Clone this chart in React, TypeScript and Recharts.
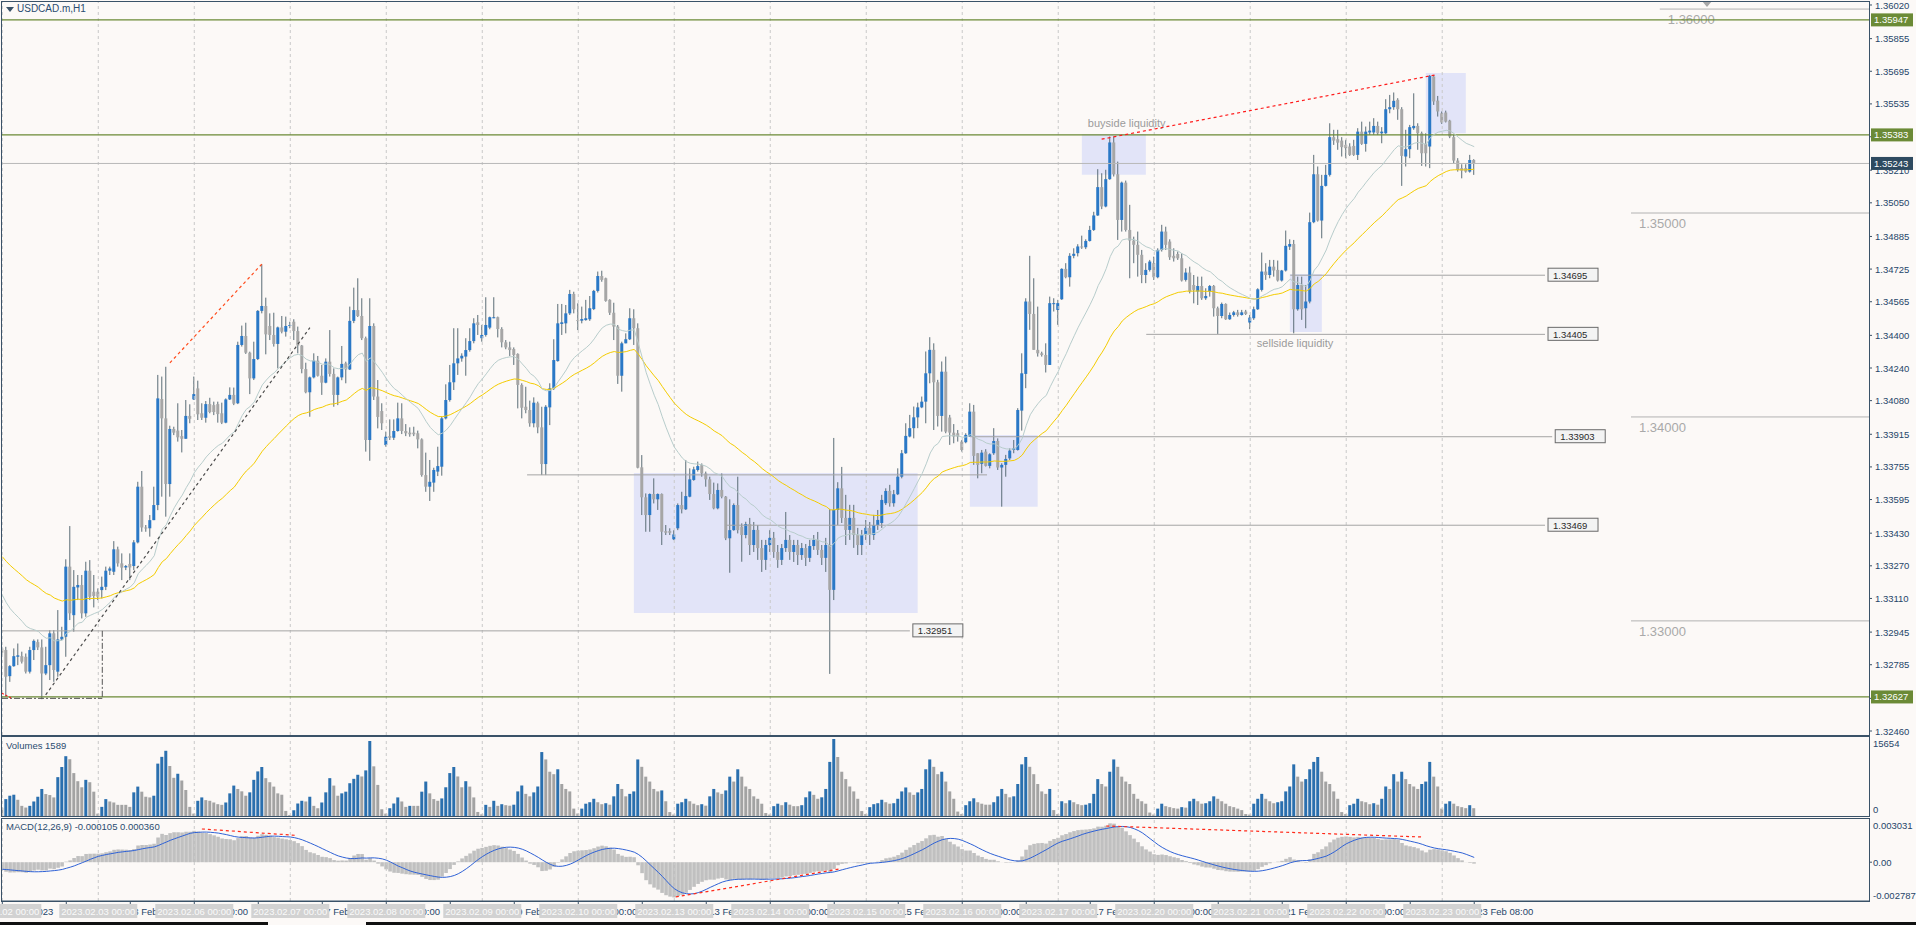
import React from "react";
import { ComposedChart, Bar, Line, XAxis, YAxis, ReferenceLine, ReferenceArea, ReferenceDot, Cell } from "recharts";

// ---------- data (prices in points of 0.00001 above 1.30000) ----------
const BASE = 1.3;
const PT = 100000;
const DAYS = [2, 3, 6, 7, 8, 9, 10, 13, 14, 15, 16, 17, 20, 21, 22, 23];

const opens = [
  2865,2857,2729,2778,2824,2827,2824,2751,2857,2896, 2870,2742,2783,2939,2751,2909,2922,3266,3028,3164,
  3176,3037,3246,3143,3143,3151,3167,3246,3241,3351, 3282,3262,3279,3269,3385,3658,3458,3454,3494,3568,
  4088,3993,3671,3941,3933,3906,3893,4005,4086,4140, 4018,3996,4063,4058,4063,4018,3972,4086,4108,4067,
  4353,4397,4315,4189,4284,4520,4544,4446,4402,4358, 4439,4418,4446,4467,4421,4350,4235,4121,4194,4276,
  4202,4168,4271,4211,4108,4194,4263,4233,4471,4524, 4495,4386,3887,4446,4100,4029,3862,3906,3898,3931,
  3993,3931,3923,3923,3920,3890,3715,3658,3678,3732, 3756,3993,4083,4170,4263,4287,4296,4328,4372,4464,
  4386,4402,4438,4484,4489,4431,4366,4341,4333,4309, 4157,4050,4034,3969,4067,3949,3769,4047,4140,4274,
  4456,4459,4508,4603,4475,4472,4475,4479,4529,4618, 4691,4680,4574,4511,4443,4202,4361,4381,4484,4435,
  3753,3606,3519,3622,3596,3622,3440,3440,3400,3454, 3568,3547,3609,3691,3740,3764,3723,3694,3622,3552,
  3642,3609,3405,3445,3568,3462,3421,3475,3372,3446, 3357,3299,3372,3407,3338,3299,3357,3397,3338,3372,
  3323,3357,3309,3367,3397,3348,3309,3372,3152,3544, 3650,3505,3446,3505,3421,3372,3421,3456,3421,3470,
  3480,3577,3637,3577,3621,3707,3822,3904,3945,3998, 4047,4075,4214,4329,4170,4005,4222,3997,3923,3920,
  3879,3876,3904,4026,3822,3770,3830,3760,3822,3882, 3752,3765,3797,3838,3838,4031,4211,4566,4505,4329,
  4312,4304,4255,4553,4525,4577,4726,4685,4790,4803, 4836,4832,4863,4917,4988,5127,5032,5166,5346,5190,
  4966,5149,4917,4865,4844,4795,4696,4721,4754,4685, 4819,4909,4860,4790,4799,4778,4672,4708,4647,4615,
  4642,4582,4615,4642,4533,4495,4554,4479,4500,4513, 4500,4517,4463,4484,4528,4623,4713,4696,4737,4721,
  4669,4718,4835,4848,4528,4647,4533,4566,4955,5190, 4963,5133,5187,5372,5362,5355,5334,5326,5329,5285,
  5399,5339,5395,5395,5427,5391,5391,5509,5519,5555, 5509,5277,5313,5416,5427,5391,5339,5326,5669,5551,
  5489,5493,5453,5372,5257,5220,5220,5203,5260,
];
const highs = [
  2873,2873,2783,2865,2889,2849,2840,2873,2909,2909, 2909,2873,2955,2955,3053,2971,3302,3465,3249,3225,
  3225,3290,3298,3225,3159,3217,3266,3266,3391,3364, 3331,3274,3331,3396,3682,3735,3470,3519,3658,4206,
  4198,4246,3957,3952,4067,3936,4083,4062,4198,4178, 4067,4078,4094,4075,4075,4070,4091,4145,4144,4369,
  4448,4462,4320,4369,4524,4748,4585,4508,4511,4443, 4495,4492,4467,4479,4443,4353,4266,4198,4312,4299,
  4255,4287,4426,4238,4198,4348,4271,4541,4634,4680, 4582,4394,4582,4459,4181,4067,3928,3988,3988,4070,
  4067,3965,3949,3952,3933,3895,3825,3789,3751,3854, 4001,4160,4255,4435,4435,4312,4386,4435,4484,4500,
  4451,4587,4492,4587,4492,4440,4377,4369,4341,4312, 4165,4148,4080,4096,4075,4050,4058,4165,4381,4554,
  4554,4549,4623,4614,4557,4541,4574,4593,4623,4713, 4717,4683,4577,4560,4451,4369,4410,4533,4528,4459,
  3813,3625,3625,3699,3625,3625,3470,3454,3445,3576, 3633,3789,3748,3756,3781,3772,3732,3707,3678,3674,
  3723,3612,3596,3576,3707,3478,3486,3505,3485,3470, 3397,3397,3446,3436,3372,3377,3534,3421,3397,3397,
  3382,3377,3397,3421,3436,3372,3407,3549,3897,3680, 3755,3618,3569,3569,3456,3446,3495,3485,3520,3544,
  3618,3650,3667,3642,3748,3838,3969,4010,4051,4070, 4100,4321,4391,4361,4182,4272,4296,4010,3965,3936,
  3887,3920,4067,4059,3822,3838,3842,3822,3945,3895, 3773,3814,3846,3887,4043,4312,4582,4790,4680,4541,
  4320,4361,4590,4582,4574,4729,4754,4803,4827,4847, 4889,4871,4937,5006,5215,5195,5212,5375,5375,5252,
  5154,5159,5040,4884,4909,4819,4754,4770,4786,4827, 4942,4933,4871,4827,4811,4803,4729,4737,4696,4688,
  4688,4631,4647,4647,4541,4561,4557,4512,4520,4525, 4525,4525,4500,4541,4631,4806,4754,4770,4770,4767,
  4721,4914,4871,4868,4688,4688,4647,5002,5285,5228, 5187,5236,5440,5408,5408,5372,5359,5342,5359,5416,
  5448,5424,5448,5465,5448,5421,5558,5579,5591,5563, 5519,5408,5432,5587,5440,5399,5391,5677,5677,5574,
  5498,5502,5457,5383,5269,5239,5239,5285,5264,
];
const lows = [
  2832,2628,2701,2775,2783,2791,2742,2742,2808,2857, 2616,2734,2710,2701,2726,2906,2824,3004,2947,3102,
  3012,3020,3102,3066,3102,3110,3151,3225,3225,3266, 3200,3249,3200,3249,3380,3437,3437,3413,3494,3543,
  3609,3511,3609,3911,3879,3826,3893,3969,4083,3985, 3985,3972,4018,4009,3972,3965,3969,4083,4058,4063,
  4345,4309,4112,4181,4279,4508,4307,4377,4345,4238, 4410,4394,4435,4377,4312,4214,4116,4001,4189,4198,
  4108,4165,4198,4050,4058,4180,4165,4230,4460,4490, 4377,3830,3785,4083,3944,3936,3854,3887,3887,3928,
  3916,3906,3903,3906,3846,3707,3633,3588,3633,3710, 3712,3988,4075,4132,4206,4271,4202,4320,4361,4402,
  4369,4394,4430,4484,4390,4341,4332,4299,4255,4042, 3993,4018,3952,3949,3920,3715,3715,3960,4132,4271,
  4402,4410,4500,4508,4426,4459,4472,4471,4524,4610, 4663,4565,4500,4377,4162,4124,4361,4377,4353,3748,
  3519,3437,3437,3576,3544,3372,3421,3421,3396,3445, 3527,3544,3606,3687,3732,3707,3658,3593,3547,3547,
  3601,3396,3236,3442,3429,3290,3405,3323,3338,3299, 3240,3250,3338,3309,3260,3274,3338,3299,3289,3274,
  3299,3269,3289,3348,3323,3274,3240,2740,3102,3470, 3480,3372,3397,3358,3323,3323,3397,3372,3397,3446,
  3456,3568,3560,3560,3617,3699,3819,3900,3895,3945, 4043,3969,4165,3936,3953,3928,3920,3863,3871,3879,
  3830,3871,3904,3765,3699,3724,3757,3748,3814,3740, 3560,3707,3789,3822,3835,3933,4141,4427,4329,4296,
  4296,4218,4255,4517,4451,4574,4680,4639,4778,4787, 4824,4823,4860,4912,4986,5019,5028,5163,5179,4868,
  4909,4909,4680,4754,4688,4656,4656,4713,4672,4680, 4811,4819,4770,4762,4770,4664,4664,4606,4557,4549,
  4574,4574,4590,4492,4407,4484,4476,4476,4492,4492, 4497,4500,4430,4476,4525,4615,4672,4680,4688,4664,
  4664,4713,4819,4410,4521,4476,4435,4557,4950,4958, 4876,5130,5179,5334,5310,5277,5269,5280,5280,5260,
  5334,5301,5383,5383,5383,5342,5388,5489,5506,5457, 5133,5228,5269,5408,5310,5231,5228,5220,5530,5473,
  5437,5444,5367,5244,5203,5170,5198,5198,5187,
];
const closes = [
  2844,2726,2778,2827,2831,2800,2751,2857,2902,2870, 2742,2783,2939,2759,2909,2922,3266,3037,3167,3176,
  3037,3246,3118,3122,3118,3167,3246,3257,3351,3282, 3261,3269,3262,3385,3658,3458,3454,3494,3568,4091,
  3993,3671,3941,3923,3900,3893,4005,3991,4112,4013, 3996,4063,4024,4024,4014,3972,4086,4108,4065,4353,
  4397,4315,4189,4284,4520,4544,4405,4402,4358,4439, 4418,4446,4451,4421,4350,4235,4121,4194,4276,4202,
  4168,4271,4211,4108,4194,4260,4233,4471,4524,4495, 4386,3887,4446,4100,4000,3969,3903,3898,3931,3993,
  3931,3920,3915,3915,3890,3715,3658,3682,3740,3759, 3993,4083,4170,4263,4287,4300,4328,4372,4459,4451,
  4402,4451,4489,4489,4431,4366,4341,4328,4304,4157, 4045,4034,3969,4070,3949,3769,4050,4140,4279,4459,
  4464,4508,4603,4528,4471,4480,4484,4533,4618,4691, 4672,4569,4511,4443,4202,4361,4381,4484,4435,3751,
  3606,3519,3622,3596,3622,3437,3432,3432,3424,3568, 3547,3612,3694,3743,3759,3723,3694,3622,3552,3642,
  3609,3405,3445,3568,3445,3421,3475,3372,3446,3357, 3299,3372,3407,3338,3299,3357,3397,3338,3372,3323,
  3357,3309,3367,3397,3348,3309,3372,3152,3544,3650, 3505,3446,3505,3421,3372,3421,3456,3421,3470,3495,
  3593,3637,3577,3621,3707,3822,3907,3945,3998,4047, 4075,4214,4329,4170,4005,4222,3928,3923,3904,3904,
  3838,3912,4026,3809,3765,3825,3760,3817,3882,3752, 3765,3794,3835,3846,4034,4214,4566,4505,4329,4312,
  4304,4255,4558,4558,4558,4726,4685,4790,4800,4836, 4832,4863,4917,4988,5127,5032,5166,5346,5190,4966,
  5149,4917,4865,4844,4795,4696,4721,4762,4685,4819, 4909,4844,4783,4778,4778,4669,4708,4615,4623,4642,
  4582,4593,4642,4533,4495,4554,4479,4500,4513,4500, 4513,4505,4487,4528,4626,4713,4696,4737,4718,4669,
  4718,4839,4848,4528,4647,4528,4566,4955,5190,4963, 5133,5187,5372,5355,5345,5323,5318,5285,5285,5399,
  5339,5399,5404,5427,5391,5399,5509,5519,5550,5509, 5280,5313,5421,5427,5391,5293,5293,5672,5547,5498,
  5444,5448,5375,5257,5211,5208,5203,5260,5244,
];
const volumes = [
  1700,3435,4122,4328,3298,2061,1718,2061,2954,3916,5496,4466, 4259,3779,7900,9962,12160,11542,8725,7076,5840,7351,6870,4946,
  481,1855,3435,2954,2748,2267,2267,2267,1855,4809,5977,4946, 3916,3779,4122,10649,12023,13259,10168,7763,8588,7214,5290,1855,
  481,3092,3779,3229,3092,2748,2405,2267,2748,4603,6183,5496, 5015,4122,4809,7351,9068,9962,7694,6870,5977,4603,4328,1031,
  206,1168,2542,3092,2954,3916,2061,1580,2748,4809,7694,6183, 4122,4603,4946,6664,7557,8381,8038,9275,15251,10099,6320,1374,
  481,1580,2542,3779,2954,1855,2061,2061,2061,4946,7007,4603, 3435,3092,3573,5840,8725,9962,8038,5840,7076,5977,3779,824,
  344,2267,1855,3092,2061,2400,2200,2100,2300,5000,6200,4500, 4000,4800,6000,13000,11500,9000,8500,9500,6500,5500,5000,1500,
  500,1500,2500,2800,3500,2800,2400,2600,2300,4000,6500,5500, 4000,4500,5000,11500,10000,8000,7000,5500,5000,5200,3000,800,
  300,2500,2800,3500,3000,2500,2200,2400,2100,4000,5500,4800, 4500,5200,8000,7000,9500,8000,6000,5500,4000,3500,2500,600,
  300,2000,2500,2200,2800,2300,2000,2000,2200,3800,5000,4300, 3500,3800,5500,11000,15654,12000,9000,7500,6000,5000,3500,1000,
  400,1800,2400,2600,3300,2800,2500,2600,3500,5000,5800,4800, 4300,4800,5500,9500,11500,10000,8500,9000,7000,5000,3500,900,
  400,2200,3000,3600,2800,2500,2300,2300,2800,4000,5500,4500, 3800,4000,6500,10500,12000,10000,8500,6500,5000,4500,5500,1200,
  400,3000,2600,3200,2800,2400,2200,2300,2600,4500,7500,6500, 6000,9000,11500,10000,8000,7000,6500,4500,3500,3000,2500,700,
  300,1500,2500,2000,1800,1600,1500,1800,1700,3000,3500,3000, 2500,2600,3000,4000,3500,3000,2500,2000,1800,1500,1200,400,
  300,2500,3500,4500,3500,3000,2600,2800,3000,5000,6000,10500, 8000,7000,7500,9500,11000,12000,9000,7000,6500,5000,3500,800,
  400,2200,2500,3500,3000,2800,2400,2600,2300,3500,6000,5500, 8500,7000,9000,7500,6500,6000,5500,6500,7000,11000,8000,6000,
  1500,2500,3000,2500,2000,1800,1600,2200,1589,
];

// price axis ticks and tags
const PRICE_TICKS = [1.3602,1.35855,1.35695,1.35535,1.35374,1.3521,1.3505,1.34885,1.34725,1.34565,1.344,1.3424,1.3408,1.33915,1.33755,1.33595,1.3343,1.3327,1.3311,1.32945,1.32785,1.3262,1.3246];
const TAGS = [
  { price: 1.35947, bg: "#6b8a36" },
  { price: 1.35383, bg: "#6b8a36" },
  { price: 1.35243, bg: "#2e4a60" },
  { price: 1.32627, bg: "#6b8a36" },
];
const GREEN_LEVELS = [1.35947, 1.35383, 1.32627];
const BID = 1.35243;
// round levels: [price, fromBar]
const ROUND_LEVELS: [number, number][] = [[1.36, 414.4], [1.35, 407.2], [1.34, 407.2], [1.33, 407.2]];
// level lines: [price, fromBar, toBar, showTag]
const LEVELS: [number, number, number, boolean][] = [
  [1.32951, -0.075, 226.9, true],
  [1.34695, 322, 385.7, true],
  [1.34405, 286, 385.7, true],
  [1.33903, 242, 387.5, true],
  [1.33469, 181, 385.7, true],
  [1.33716, 131.2, 246.2, false],
];
// zones: [fromBar, toBar, lowPrice, highPrice]
const ZONES: [number, number, number, number][] = [
  [157.9, 228.85, 1.33039, 1.33725],
  [241.9, 258.85, 1.3356, 1.33912],
  [269.9, 285.9, 1.35188, 1.35387],
  [321.9, 329.9, 1.34416, 1.34701],
  [355.9, 365.9, 1.35391, 1.35687],
];
// trend lines: [x1, y1, x2, y2, color, dash]
const TRENDS: [number, number, number, number, string, string][] = [
  [41.9, 1.34265, 64.9, 1.3475, "#ff4a1a", "3 3"],
  [10.85, 1.32637, 76.9, 1.34438, "#4a4a4a", "3 3"],
  [274.85, 1.35362, 358.2, 1.35677, "#ff1a1a", "3 3"],
  [-0.07, 1.32645, 2.2, 1.32622, "#ff1a1a", "2 2"],
];
const MACD_TRENDS: [number, number, number, number][] = [
  [49.9, 0.002385, 73.2, 0.001932],
  [168.4, -0.002497, 209.4, -0.000478],
  [276, 0.0026, 355, 0.00181],
];
// indicator settings (exponential MAs); seeds read at the left edge of the picture
const MA_FAST = 20, MA_SLOW = 50;
const SEED_FAST = 1.33157, SEED_SLOW = 1.33334;
const EMA12_SEED = 1.3296, EMA26_SEED = 1.3301, SIGNAL_SEED = -0.0005;

// ---------- derived rows ----------
const px = (v: number) => BASE + v / PT;
const cl = closes.map(px);
const ema = (n: number, seed: number) => {
  const a = 2 / (n + 1);
  let e = seed;
  return cl.map((c) => (e = e + a * (c - e)));
};
const maFast = ema(MA_FAST, SEED_FAST);
const maSlow = ema(MA_SLOW, SEED_SLOW);
const e12 = ema(12, EMA12_SEED);
const e26 = ema(26, EMA26_SEED);
const macd = e12.map((v, i) => v - e26[i]);
const signal = macd.map((_, i) => {
  let s = 0;
  for (let k = i - 8; k <= i; k++) s += k >= 0 ? macd[k] : SIGNAL_SEED;
  return s / 9;
});
const rows = closes.map((_, i) => ({
  i,
  o: px(opens[i]),
  h: px(highs[i]),
  l: px(lows[i]),
  c: px(closes[i]),
  range: [px(lows[i]), px(highs[i])],
  maFast: maFast[i],
  maSlow: maSlow[i],
  vol: volumes[i],
  volUp: i > 0 && volumes[i] > volumes[i - 1],
  macd: macd[i],
  signal: signal[i],
}));

// ---------- styles ----------
const FONT = "'Liberation Sans', Arial, sans-serif";
const BG = "#fcf9f7";
const FRAME = "#3a5268";
const AXIS_TEXT = "#26466a";
const BLUE = "#2a78c6";
const GRAY = "#a6a6a6";
const WICK = "#5a6c76";
const X_MIN = -0.075, X_MAX = 466.7;
const P_MIN = 1.324404, P_MAX = 1.360347;
const V_MAX = 15654;
const M_MIN = -0.002787, M_MAX = 0.003031;
const dayStarts = DAYS.map((_, k) => k * 24);

const Candle = (p: any) => {
  const { x, y, width, height, payload } = p;
  if (x == null || payload == null) return null;
  const { o, c, h, l } = payload;
  const cx = x + width / 2;
  const k = h > l ? height / (h - l) : 0;
  const yo = y + (h - o) * k;
  const yc = y + (h - c) * k;
  const top = Math.min(yo, yc);
  const bh = Math.max(1, Math.abs(yc - yo));
  return (
    <g>
      <line x1={cx} x2={cx} y1={y} y2={y + height} stroke={WICK} strokeWidth={1} />
      <rect x={cx - 1.5} y={top} width={3} height={bh} fill={c >= o ? BLUE : GRAY} />
    </g>
  );
};

const PriceTick = (p: any) => {
  const { x, y, payload } = p;
  const v = payload.value as number;
  const tag = TAGS.find((t) => Math.abs(t.price - v) < 1e-9);
  if (tag) {
    return (
      <g>
        <rect x={x + 2} y={y - 6.5} width={42} height={13} fill={tag.bg} />
        <text x={x + 5} y={y + 3.5} fontSize={9.5} fontFamily={FONT} fill="#ffffff">{v.toFixed(5)}</text>
      </g>
    );
  }
  return (
    <g>
      <line x1={x} x2={x + 3} y1={y} y2={y} stroke={FRAME} />
      <text x={x + 6} y={y + 3.5} fontSize={9.5} fontFamily={FONT} fill={AXIS_TEXT}>{v.toFixed(5)}</text>
    </g>
  );
};

const VolTick = (p: any) => {
  const { x, y, payload } = p;
  const v = payload.value as number;
  const dy = v === 0 ? -3 : 8;
  return <text x={x + 4} y={y + dy} fontSize={9.5} fontFamily={FONT} fill={AXIS_TEXT}>{String(v)}</text>;
};

const MacdTick = (p: any) => {
  const { x, y, payload } = p;
  const v = payload.value as number;
  const txt = v === 0 ? "0.00" : v.toFixed(6);
  const dy = v === 0 ? 3.5 : v > 0 ? 9 : -2;
  return (
    <g>
      {v === 0 && <line x1={x} x2={x + 3} y1={y} y2={y} stroke={FRAME} />}
      <text x={x + 4} y={y + dy} fontSize={9.5} fontFamily={FONT} fill={AXIS_TEXT}>{txt}</text>
    </g>
  );
};

const TimeTick = (p: any) => {
  const { x, y, payload } = p;
  const v = payload.value as number;
  const bar = Math.round(v);
  if (Math.abs(v - bar) > 1e-7) {
    const d = DAYS[bar / 24];
    const label = `2023.02.${String(d).padStart(2, "0")} 00:00`;
    return (
      <g>
        <rect x={x - 39} y={y + 3} width={78} height={14} fill="#d2d2d2" />
        <text x={x} y={y + 13.5} textAnchor="middle" fontSize={9.5} fontFamily={FONT} fill="#fafafa">{label}</text>
      </g>
    );
  }
  const d = DAYS[Math.floor(bar / 24)];
  const h = bar % 24;
  const label = bar === 0 ? "2 Feb 2023" : `${d} Feb ${String(h).padStart(2, "0")}:00`;
  return (
    <g>
      <line x1={x} x2={x} y1={y} y2={y + 4} stroke={FRAME} />
      <text x={x + 3} y={y + 13.5} fontSize={9.5} fontFamily={FONT} fill={AXIS_TEXT}>{label}</text>
    </g>
  );
};

const levelTag = (text: string) => (p: any) => {
  const vb = p.viewBox || {};
  const x = (vb.x ?? 0) + (vb.width ?? 0) + 3;
  const y = vb.y ?? 0;
  return (
    <g>
      <rect x={x} y={y - 7} width={50} height={13} fill="#f3f3f3" stroke="#6a6a6a" />
      <text x={x + 5} y={y + 3.5} fontSize={9.5} fontFamily={FONT} fill="#2a2a2a">{text}</text>
    </g>
  );
};

const roundLabel = (text: string) => (p: any) => {
  const vb = p.viewBox || {};
  return (
    <text x={(vb.x ?? 0) + 8} y={(vb.y ?? 0) + 15} fontSize={13} fontFamily={FONT} fill="#a9a9a9">{text}</text>
  );
};

const zoneText = (text: string, dx: number, dy: number, fromBottom: boolean) => (p: any) => {
  const vb = p.viewBox || {};
  const y = fromBottom ? (vb.y ?? 0) + (vb.height ?? 0) + dy : (vb.y ?? 0) + dy;
  return <text x={(vb.x ?? 0) + dx} y={y} fontSize={11} fontFamily={FONT} fill="#9b9b9b">{text}</text>;
};

const dayLines = (keyPrefix: string) =>
  dayStarts.map((d) => (
    <ReferenceLine key={`${keyPrefix}-${d}`} x={d} stroke="#c9c9c9" strokeDasharray="3 3" ifOverflow="visible" />
  ));

const frame = (top: number, height: number): React.CSSProperties => ({
  position: "absolute", left: 1, top, width: 1869, height, border: `1px solid ${FRAME}`,
  boxSizing: "border-box", pointerEvents: "none",
});

export default function App() {
  return (
    <div style={{ position: "relative", width: 1916, height: 925, background: BG, overflow: "hidden", fontFamily: FONT }}>
      <style>{"body{margin:0;background:#fcf9f7}"}</style>

      {/* main price pane */}
      <div style={{ position: "absolute", left: 0, top: 0 }}>
        <ComposedChart width={1916} height={736} data={rows} margin={{ top: 2, right: 0, bottom: 1, left: 2 }}>
          <XAxis type="number" dataKey="i" domain={[X_MIN, X_MAX]} hide allowDataOverflow />
          <YAxis orientation="right" type="number" domain={[P_MIN, P_MAX]} allowDataOverflow width={47}
            ticks={[...PRICE_TICKS, ...TAGS.map((t) => t.price)]} interval={0} tick={<PriceTick />}
            tickLine={false} axisLine={false} tickSize={0} tickMargin={0} />
          {ZONES.map(([x1, x2, y1, y2], k) => (
            <ReferenceArea key={`z${k}`} x1={x1} x2={x2} y1={y1} y2={y2} fill="#e2e4f8" fillOpacity={1}
              stroke="none" ifOverflow="visible"
              label={k === 2 ? zoneText("buyside liquidity", 6, -7, false) : k === 3 ? zoneText("sellside liquidity", -33, 15, true) : undefined} />
          ))}
          {dayLines("m")}
          {ROUND_LEVELS.map(([p, from]) => (
            <ReferenceLine key={`r${p}`} segment={[{ x: from, y: p }, { x: X_MAX, y: p }]} stroke="#b2b2b2"
              ifOverflow="visible" label={roundLabel(p.toFixed(5))} />
          ))}
          {LEVELS.map(([p, a, b, tag]) => (
            <ReferenceLine key={`l${p}`} segment={[{ x: a, y: p }, { x: b, y: p }]} stroke="#a4a4a4"
              ifOverflow="visible" label={tag ? levelTag(p.toFixed(5)) : undefined} />
          ))}
          <ReferenceLine y={BID} stroke="#b8b8b8" ifOverflow="visible" />
          {GREEN_LEVELS.map((p) => (
            <ReferenceLine key={`g${p}`} y={p} stroke="#6b8a36" strokeWidth={1.2} ifOverflow="visible" />
          ))}
          <ReferenceLine segment={[{ x: 25, y: 1.32951 }, { x: 25, y: 1.3262 }]} stroke="#555" strokeDasharray="6 2 2 2" ifOverflow="visible" />
          <ReferenceLine segment={[{ x: -0.07, y: 1.3262 }, { x: 25, y: 1.3262 }]} stroke="#555" strokeDasharray="6 2 2 2" ifOverflow="visible" />
          <Line dataKey="maSlow" stroke="#f4cc00" strokeWidth={1} dot={false} isAnimationActive={false} type="linear" />
          <Line dataKey="maFast" stroke="#b8cdcc" strokeWidth={1} dot={false} isAnimationActive={false} type="linear" />
          <Bar dataKey="range" barSize={3} isAnimationActive={false} shape={(p: any) => <Candle {...p} />} />
          {TRENDS.map(([x1, y1, x2, y2, col, dash], k) => (
            <ReferenceLine key={`t${k}`} segment={[{ x: x1, y: y1 }, { x: x2, y: y2 }]} stroke={col}
              strokeDasharray={dash} strokeWidth={1.2} ifOverflow="visible" />
          ))}
          <ReferenceDot x={426.2} y={P_MAX} r={0} ifOverflow="visible"
            shape={(p: any) => <polygon points={`${p.cx - 5},${p.cy - 1} ${p.cx + 5},${p.cy - 1} ${p.cx},${p.cy + 5}`} fill="#a8a8a8" />} />
        </ComposedChart>
      </div>

      {/* volume pane */}
      <div style={{ position: "absolute", left: 0, top: 736 }}>
        <ComposedChart width={1916} height={80} data={rows} margin={{ top: 3, right: 0, bottom: 0, left: 2 }}>
          <XAxis type="number" dataKey="i" domain={[X_MIN, X_MAX]} hide allowDataOverflow />
          <YAxis orientation="right" type="number" domain={[0, V_MAX]} allowDataOverflow width={47}
            ticks={[V_MAX, 0]} interval={0} tick={<VolTick />} tickLine={false} axisLine={false} tickSize={0} tickMargin={0} />
          {dayLines("v")}
          <Bar dataKey="vol" barSize={3} isAnimationActive={false}>
            {rows.map((r) => (
              <Cell key={`vc${r.i}`} fill={r.volUp ? "#2a6fae" : "#a3a3a3"} />
            ))}
          </Bar>
        </ComposedChart>
      </div>

      {/* MACD pane + time axis */}
      <div style={{ position: "absolute", left: 0, top: 817 }}>
        <ComposedChart width={1916} height={108} data={rows} margin={{ top: 3, right: 0, bottom: 0, left: 2 }}>
          <XAxis type="number" dataKey="i" domain={[X_MIN, X_MAX]} allowDataOverflow height={24}
            ticks={[...Array.from({ length: 24 }, (_, k) => k * 16), ...dayStarts.map((d) => d + 0.0001)]}
            interval={0} tick={<TimeTick />} tickLine={false} tickSize={0} tickMargin={0}
            axisLine={{ stroke: FRAME }} />
          <YAxis orientation="right" type="number" domain={[M_MIN, M_MAX]} allowDataOverflow width={47}
            ticks={[M_MAX, 0, M_MIN]} interval={0} tick={<MacdTick />} tickLine={false} axisLine={false} tickSize={0} tickMargin={0} />
          {dayLines("d")}
          <Bar dataKey="macd" barSize={4} fill="#c0c0c0" isAnimationActive={false} />
          <Line dataKey="signal" stroke="#2f62d6" strokeWidth={1} dot={false} isAnimationActive={false} type="linear" />
          {MACD_TRENDS.map(([x1, y1, x2, y2], k) => (
            <ReferenceLine key={`mt${k}`} segment={[{ x: x1, y: y1 }, { x: x2, y: y2 }]} stroke="#ff2a1a"
              strokeDasharray="3 3" strokeWidth={1.2} ifOverflow="visible" />
          ))}
        </ComposedChart>
      </div>

      {/* pane frames */}
      <div style={frame(1, 735)} />
      <div style={frame(736, 81)} />
      <div style={frame(818, 84)} />

      {/* pane captions */}
      <svg style={{ position: "absolute", left: 6, top: 7 }} width={8} height={6}>
        <polygon points="0,0 8,0 4,5" fill="#3a5268" />
      </svg>
      <div style={{ position: "absolute", left: 17, top: 3, fontSize: 10, color: "#2a4c70", whiteSpace: "nowrap" }}>USDCAD.m,H1</div>
      <div style={{ position: "absolute", left: 6, top: 740, fontSize: 9.5, color: "#2a4c70", whiteSpace: "nowrap" }}>Volumes 1589</div>
      <div style={{ position: "absolute", left: 6, top: 821, fontSize: 9.5, color: "#2a4c70", whiteSpace: "nowrap" }}>MACD(12,26,9) -0.000105 0.000360</div>

      {/* window bottom edge */}
      <div style={{ position: "absolute", left: 0, top: 922, width: 268, height: 3, background: "#111" }} />
      <div style={{ position: "absolute", left: 366, top: 922, width: 1550, height: 3, background: "#111" }} />
    </div>
  );
}
